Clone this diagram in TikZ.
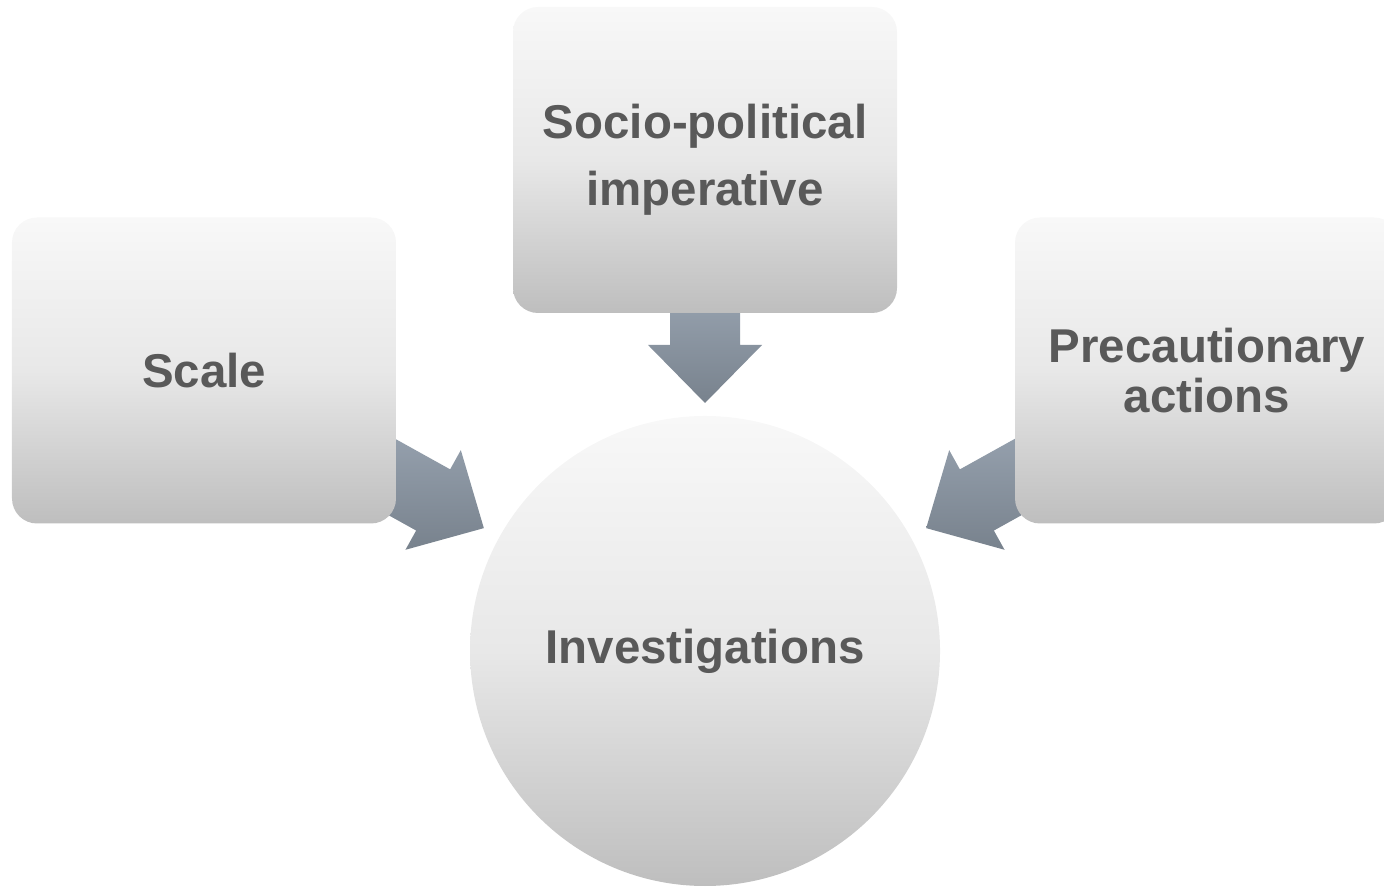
\documentclass[tikz,border=0pt]{standalone}
\usepackage{fontspec}
\setmainfont{Liberation Sans}
\usetikzlibrary{calc,backgrounds}

\definecolor{boxtop}{HTML}{F8F8F8}
\definecolor{boxmid}{HTML}{E8E8E8}
\definecolor{boxbot}{HTML}{BEBEBE}
\definecolor{arrowtop}{HTML}{95A0AD}
\definecolor{arrowbot}{HTML}{78828D}
\definecolor{labelgray}{HTML}{595959}

\tikzset{
    panel/.style={rectangle, rounded corners=0.25cm, minimum width=3.84cm, minimum height=3.06cm,
        top color=boxtop, bottom color=boxbot, middle color=boxmid,
        text=labelgray, align=center, font=\fontsize{13.5}{19}\selectfont\bfseries},
    hub/.style={circle, inner sep=0pt, minimum size=4.7cm,
        top color=boxtop, bottom color=boxbot, middle color=boxmid,
        text=labelgray, font=\fontsize{13.5}{19}\selectfont\bfseries},
    arrowshade/.style={top color=arrowtop, bottom color=arrowbot}
}

% block arrow from #1 to #2
\newcommand{\blockarrow}[2]{
    \coordinate (#1-b) at ($(#2)!0.58cm!(#1)$);
    \shade[arrowshade] ($(#1)!0.35cm!90:(#2)$) -- ($(#1-b)!0.35cm!90:(#2)$)
        -- ($(#1-b)!0.57cm!90:(#2)$) -- (#2) -- ($(#1-b)!0.57cm!-90:(#2)$)
        -- ($(#1-b)!0.35cm!-90:(#2)$) -- ($(#1)!0.35cm!-90:(#2)$) -- cycle;
}

\begin{document}
\begin{tikzpicture}
    \useasboundingbox (0,0) rectangle (13.84,8.87);

    \node[panel] (socio) at (7.05,7.27) {Socio-political\\imperative};
    \node[panel] (scale) at (2.04,5.165) {Scale};
    \node[panel, font=\fontsize{13.5}{14.3}\selectfont\bfseries] (precaution) at (12.07,5.165) {Precautionary\\actions};
    \node[hub] (inv) at (7.05,2.36) {Investigations};

    \begin{scope}[on background layer]
        \coordinate (s1) at (7.05,5.87);
        \coordinate (s2) at (3.72,4.21);
        \coordinate (s3) at (10.38,4.21);
        \coordinate (t1) at ($(inv.center)!2.48cm!(s1)$);
        \coordinate (t2) at ($(inv.center)!2.53cm!(s2)$);
        \coordinate (t3) at ($(inv.center)!2.53cm!(s3)$);
        \blockarrow{s1}{t1}
        \blockarrow{s2}{t2}
        \blockarrow{s3}{t3}
    \end{scope}
\end{tikzpicture}
\end{document}
